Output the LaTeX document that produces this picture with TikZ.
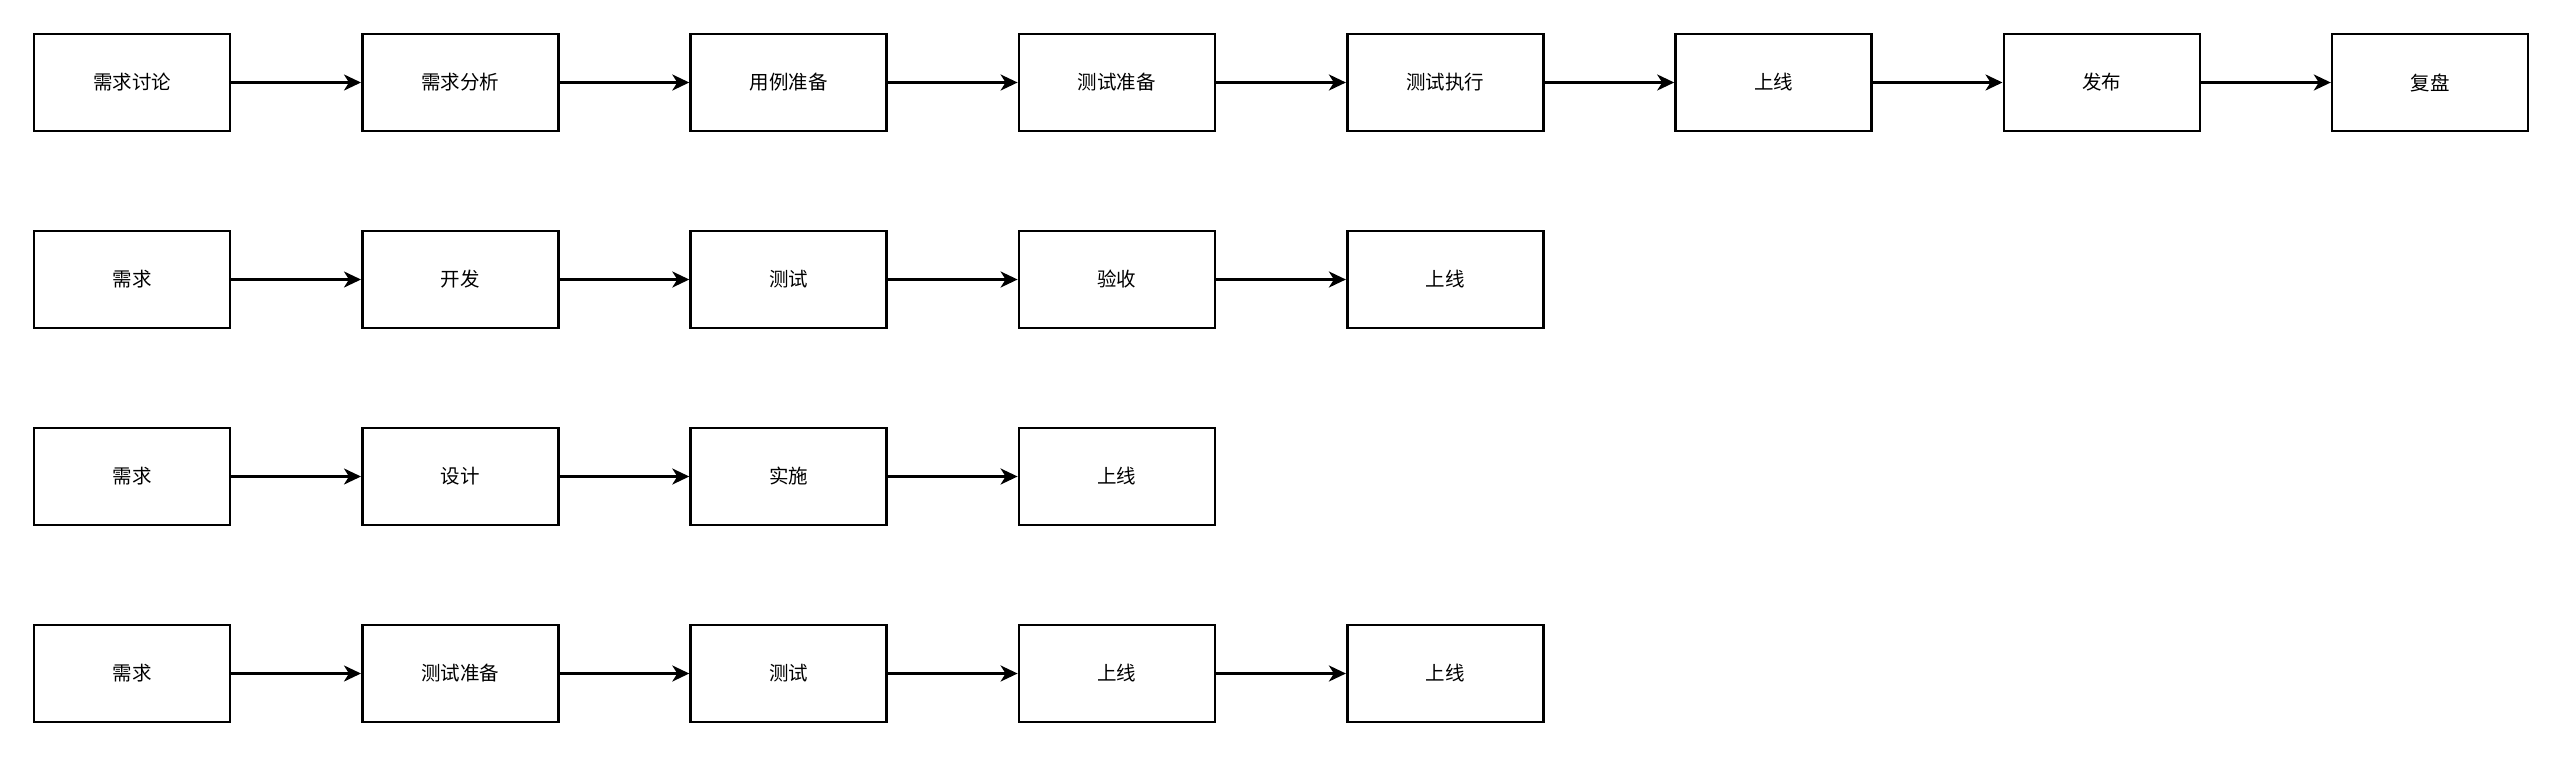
\documentclass[tikz,border=0pt]{standalone}
\usepackage{fontspec}
\setmainfont{Noto Sans CJK SC}
\usetikzlibrary{arrows.meta}
\begin{document}
\begin{tikzpicture}[x=1pt,y=-1pt,
  box/.style={draw=black,line width=2.6pt,minimum width=196pt,minimum height=97pt,inner sep=0pt,font=\fontsize{19.5}{22}\selectfont},
  flow/.style={line width=2.6pt,-{Stealth[length=17pt,width=16pt,inset=5pt]}}]
\useasboundingbox (0,0) rectangle (2560,766);
\foreach \row/\y/\labels in {
  1/82.5/{需求讨论,需求分析,用例准备,测试准备,测试执行,上线,发布,复盘},
  2/279.5/{需求,开发,测试,验收,上线},
  3/476.5/{需求,设计,实施,上线},
  4/673.5/{需求,测试准备,测试,上线,上线}} {
  \foreach \t [count=\i] in \labels {
    \node[box] (n\row-\i) at ({132+(\i-1)*328.3},\y) {\t};
  }
}
\foreach \row/\n in {1/8,2/5,3/4,4/5} {
  \foreach \i [evaluate=\i as \j using int(\i+1)] in {1,...,\numexpr\n-1\relax} {
    \draw[flow] (n\row-\i) -- (n\row-\j);
  }
}
\end{tikzpicture}
\end{document}
